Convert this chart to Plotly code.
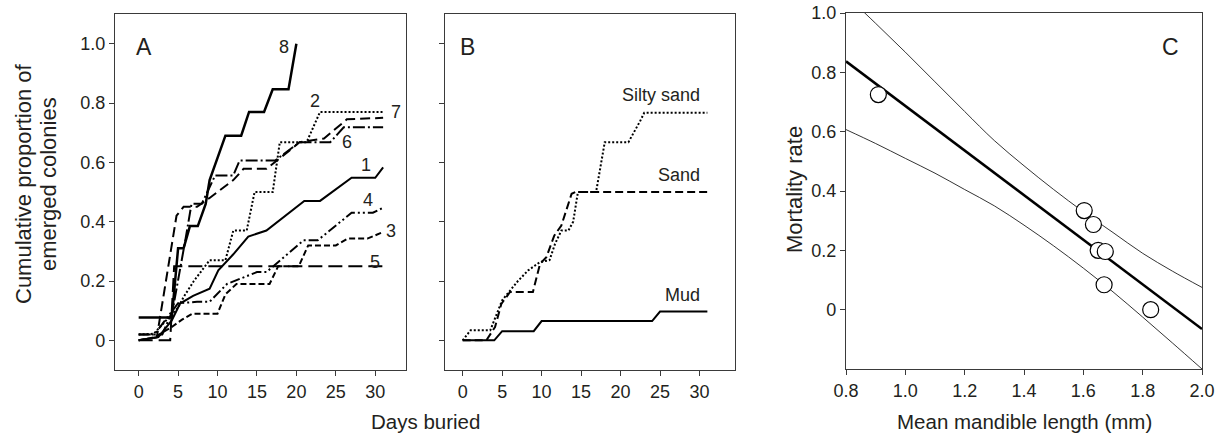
import plotly.graph_objects as go

# ---------------- Panel A data (days, cumulative proportion) ----------------
a1_days = [0, 2.5, 4.2, 5.25, 6.9, 9, 10.1, 12, 13.9, 16.2, 21, 23, 27, 30, 31]
a1_vals = [0, 0.011, 0.067, 0.124, 0.15, 0.174, 0.236, 0.29, 0.35, 0.37, 0.47, 0.47, 0.548, 0.548, 0.583]

a2_days = [0, 1.9, 5, 5.7, 7, 9, 11, 12, 13.7, 14.7, 17, 17.9, 21.3, 23, 31]
a2_vals = [0.02, 0.022, 0.11, 0.146, 0.2, 0.27, 0.27, 0.37, 0.37, 0.5, 0.5, 0.668, 0.668, 0.77, 0.77]

a3_days = [0, 2, 4.2, 5.5, 6.8, 10, 11, 12.4, 16.6, 17.7, 20.3, 21.5, 25, 26.5, 29, 31]
a3_vals = [0, 0.01, 0.045, 0.07, 0.09, 0.09, 0.155, 0.19, 0.19, 0.25, 0.25, 0.32, 0.32, 0.343, 0.343, 0.365]

a4_days = [0, 2, 4, 5, 7.4, 9, 11.2, 13, 15, 16.2, 20.9, 22.7, 27, 29.7, 31]
a4_vals = [0.02, 0.02, 0.09, 0.125, 0.13, 0.13, 0.19, 0.21, 0.23, 0.23, 0.337, 0.337, 0.43, 0.43, 0.447]

a5_days = [0, 4, 4.5, 31]
a5_vals = [0, 0, 0.25, 0.25]

a6_days = [0, 3, 4.3, 5, 6, 6.7, 8, 9.7, 12, 12.8, 17.3, 19, 20.4, 24.3, 26, 31]
a6_vals = [0.02, 0.02, 0.1, 0.2, 0.35, 0.46, 0.46, 0.556, 0.556, 0.606, 0.606, 0.64, 0.668, 0.668, 0.718, 0.718]

a7_days = [0, 2.3, 4.8, 5.7, 7.4, 9, 12, 13.3, 16.2, 18.1, 19.6, 20.4, 23.5, 26.4, 31]
a7_vals = [0, 0.01, 0.42, 0.45, 0.45, 0.48, 0.54, 0.578, 0.578, 0.617, 0.65, 0.668, 0.68, 0.745, 0.75]

a8_days = [0, 4.2, 5, 5.7, 6.5, 7.5, 8.5, 9, 10, 11, 13, 14, 15.9, 17, 19, 20]
a8_vals = [0.077, 0.077, 0.31, 0.31, 0.385, 0.385, 0.46, 0.54, 0.615, 0.69, 0.69, 0.77, 0.77, 0.846, 0.846, 1.0]

a_labels = ["1", "2", "3", "4", "5", "6", "7", "8"]
a_label_x = [365.5, 315, 391, 368, 375, 347, 396, 284]   # label positions (px)
a_label_y = [165, 101, 231, 200, 262, 142, 112, 47]

# ---------------- Panel B data ----------------
silty_days = [0, 1, 3.5, 5, 7, 8.3, 9.8, 11, 11.7, 12.5, 13.4, 14, 14.6, 16.9, 18, 21, 22.5, 23, 31]
silty_vals = [0, 0.034, 0.034, 0.135, 0.2, 0.236, 0.264, 0.27, 0.325, 0.37, 0.37, 0.4, 0.5, 0.5, 0.668, 0.668, 0.74, 0.767, 0.767]

sand_days = [0, 3, 4.1, 4.9, 6, 8.9, 9.8, 10.6, 11.6, 12.5, 13.8, 14.3, 31]
sand_vals = [0, 0, 0.045, 0.123, 0.163, 0.163, 0.258, 0.28, 0.353, 0.387, 0.494, 0.5, 0.5]

mud_days = [0, 4, 5, 9, 10, 24, 25, 31]
mud_vals = [0, 0, 0.031, 0.031, 0.065, 0.065, 0.097, 0.097]

# ---------------- Panel C data ----------------
mand_len = [0.909, 1.603, 1.634, 1.65, 1.674, 1.67, 1.827]
mort_rate = [0.725, 0.334, 0.287, 0.2, 0.196, 0.084, 0.0]

fit_x = [0.8, 2.0]
fit_y = [0.837, -0.065]

band_x = [0.8, 0.9, 1.0, 1.1, 1.2, 1.3, 1.4, 1.5, 1.6, 1.7, 1.8, 1.9, 2.0]
band_up = [1.06, 0.965, 0.868, 0.768, 0.668, 0.57, 0.485, 0.405, 0.33, 0.26, 0.19, 0.13, 0.075]
band_lo = [0.607, 0.56, 0.51, 0.46, 0.405, 0.35, 0.285, 0.215, 0.14, 0.06, -0.025, -0.112, -0.2]

day_ticks = [0, 5, 10, 15, 20, 25, 30]
prop_ticks = [0, 0.2, 0.4, 0.6, 0.8, 1.0]
prop_ticktext = ["0", "0.2", "0.4", "0.6", "0.8", "1.0"]
len_ticks = [0.8, 1.0, 1.2, 1.4, 1.6, 1.8, 2.0]
len_ticktext = ["0.8", "1.0", "1.2", "1.4", "1.6", "1.8", "2.0"]
mort_ticks = [0, 0.2, 0.4, 0.6, 0.8, 1.0]
mort_ticktext = ["0", "0.2", "0.4", "0.6", "0.8", "1.0"]

# ---------------- figure ----------------
W, H = 1223, 438
FONT = "Liberation Sans, Arial, Helvetica, sans-serif"
TXT = "#231f20"
AX = "#3a3a3a"

def px(x):
    return x / W

def py(y):
    return 1 - y / H

fig = go.Figure()

a_series = [
    (a1_days, a1_vals, dict(color="black", width=2, dash="solid")),
    (a2_days, a2_vals, dict(color="black", width=2, dash="2px,2px")),
    (a3_days, a3_vals, dict(color="black", width=2, dash="6px,3px")),
    (a4_days, a4_vals, dict(color="black", width=2, dash="10px,3px,2px,3px,2px,3px")),
    (a5_days, a5_vals, dict(color="black", width=2, dash="14px,6px")),
    (a6_days, a6_vals, dict(color="black", width=2, dash="12px,3px,2px,3px")),
    (a7_days, a7_vals, dict(color="black", width=2, dash="10px,5px")),
    (a8_days, a8_vals, dict(color="black", width=2.5, dash="solid")),
]
for xs, ys, ln in a_series:
    fig.add_trace(go.Scatter(x=xs, y=ys, mode="lines", line=ln, xaxis="x", yaxis="y",
                             showlegend=False, hoverinfo="skip"))

b_series = [
    (silty_days, silty_vals, dict(color="black", width=2, dash="2px,2px")),
    (sand_days, sand_vals, dict(color="black", width=2, dash="8px,4px")),
    (mud_days, mud_vals, dict(color="black", width=2, dash="solid")),
]
for xs, ys, ln in b_series:
    fig.add_trace(go.Scatter(x=xs, y=ys, mode="lines", line=ln, xaxis="x2", yaxis="y2",
                             showlegend=False, hoverinfo="skip"))

fig.add_trace(go.Scatter(x=band_x, y=band_up, mode="lines", line=dict(color="black", width=0.8, shape="spline"),
                         xaxis="x3", yaxis="y3", showlegend=False, hoverinfo="skip"))
fig.add_trace(go.Scatter(x=band_x, y=band_lo, mode="lines", line=dict(color="black", width=0.8, shape="spline"),
                         xaxis="x3", yaxis="y3", showlegend=False, hoverinfo="skip"))
fig.add_trace(go.Scatter(x=fit_x, y=fit_y, mode="lines", line=dict(color="black", width=2.5),
                         xaxis="x3", yaxis="y3", showlegend=False, hoverinfo="skip"))
fig.add_trace(go.Scatter(x=mand_len, y=mort_rate, mode="markers",
                         marker=dict(size=16, color="white", line=dict(color="black", width=1.2)),
                         xaxis="x3", yaxis="y3", showlegend=False, hoverinfo="skip"))

common_ax = dict(showline=True, linecolor=AX, linewidth=1.3, mirror=True, ticks="outside",
                 ticklen=5, tickwidth=1.2, tickcolor=AX, showgrid=False, zeroline=False,
                 automargin=False, tickfont=dict(family=FONT, size=18, color=TXT))

ydomA = [py(370), py(14)]
fig.update_layout(
    width=W, height=H, margin=dict(l=0, r=0, t=0, b=0, pad=0, autoexpand=False),
    paper_bgcolor="white", plot_bgcolor="white",
    xaxis=dict(domain=[px(115), px(406)], range=[-3, 33.9], tickvals=day_ticks, anchor="y", **common_ax),
    yaxis=dict(domain=ydomA, range=[-0.1, 1.1], tickvals=prop_ticks, ticktext=prop_ticktext,
               anchor="x", **common_ax),
    xaxis2=dict(domain=[px(445), px(735)], range=[-2.24, 34.5], tickvals=day_ticks, anchor="y2", **common_ax),
    yaxis2=dict(domain=ydomA, range=[-0.1, 1.1], tickvals=prop_ticks, showticklabels=False,
                anchor="x2", **common_ax),
    xaxis3=dict(domain=[px(846), px(1202)], range=[0.8, 2.0], tickvals=len_ticks, ticktext=len_ticktext,
                anchor="y3", **common_ax),
    yaxis3=dict(domain=[py(369), py(13)], range=[-0.2, 1.0], tickvals=mort_ticks, ticktext=mort_ticktext,
                anchor="x3", **common_ax),
)

ann = []
def text(x, y, s, size=17, **kw):
    ann.append(dict(x=px(x), y=py(y), xref="paper", yref="paper", text=s, showarrow=False,
                    font=dict(family=FONT, size=size, color=TXT), xanchor=kw.get("xanchor", "center"),
                    yanchor="middle", textangle=kw.get("angle", 0)))

for lab, lx, ly in zip(a_labels, a_label_x, a_label_y):
    text(lx, ly, lab, size=18)

text(134, 47, "A", size=23, xanchor="left")
text(458, 47, "B", size=23, xanchor="left")
text(1170, 47, "C", size=23, xanchor="center")

text(702, 95, "Silty sand", size=18, xanchor="right")
text(702, 175, "Sand", size=18, xanchor="right")
text(702, 295, "Mud", size=18, xanchor="right")

text(23, 184, "Cumulative proportion of", size=22, angle=-90)
text(48, 184, "emerged colonies", size=22, angle=-90)
text(425, 421, "Days buried", size=20.5)
text(1024, 421, "Mean mandible length (mm)", size=20.5)
text(794, 190, "Mortality rate", size=22, angle=-90)

fig.update_layout(annotations=ann)
fig.write_html("out.html")
